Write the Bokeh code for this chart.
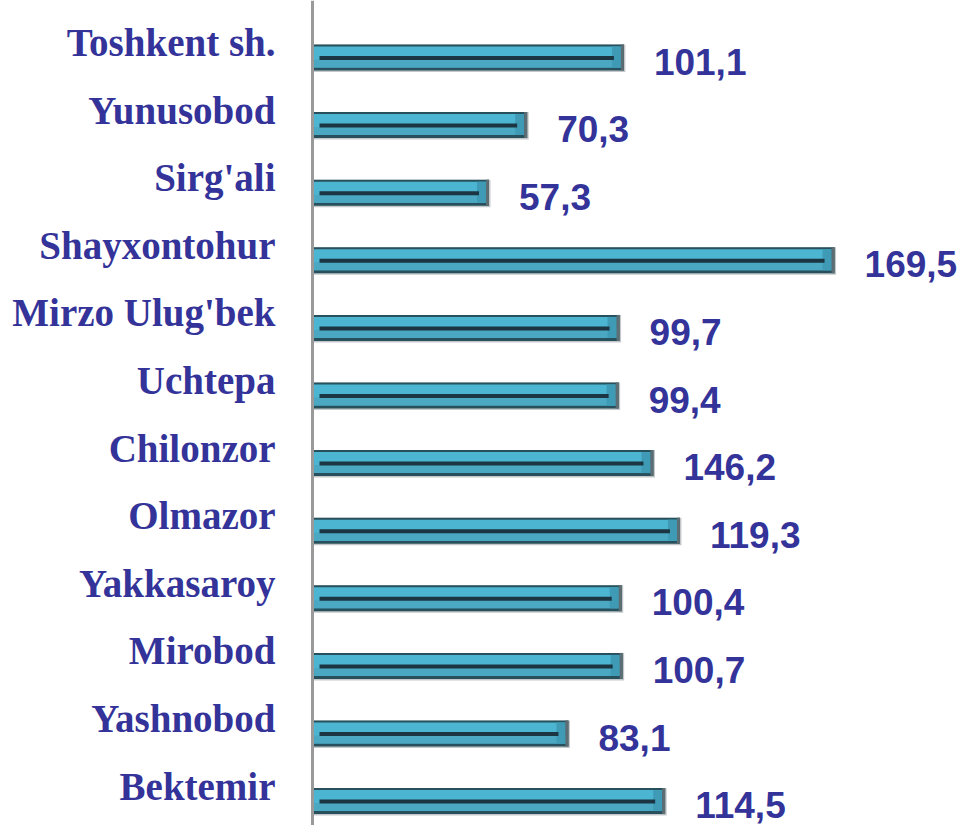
from bokeh.plotting import figure
from bokeh.models import ColumnDataSource, Range1d, Span
from bokeh.core.properties import value
from bokeh.embed import file_html
from bokeh.resources import INLINE

# ---- data (top to bottom as in the picture) ----
categories = ["Toshkent sh.", "Yunusobod", "Sirg'ali", "Shayxontohur",
              "Mirzo Ulug'bek", "Uchtepa", "Chilonzor", "Olmazor",
              "Yakkasaroy", "Mirobod", "Yashnobod", "Bektemir"]
value_labels = ["101,1", "70,3", "57,3", "169,5", "99,7", "99,4",
                "146,2", "119,3", "100,4", "100,7", "83,1", "114,5"]
# bar lengths as drawn in the picture
bar_values = [101.1, 69.7, 57.3, 169.5, 99.7, 99.4,
              110.7, 119.3, 100.4, 100.7, 83.1, 114.5]

# ---- geometry helpers (pixel -> data conversion) ----
W, H = 966, 825
PX_X = 3.08     # pixels per value unit
PX_Y = 67.6     # pixels per row
x0_px = 312     # position of zero inside the figure
n = len(categories)
ypos = [n - 1 - i for i in range(n)]
dx = 1.0 / PX_X
dy = 1.0 / PX_Y

top_row_px = 57
y_end = (n - 1) + top_row_px / PX_Y
y_start = y_end - H / PX_Y
x_start = -x0_px / PX_X
x_end = (W - x0_px) / PX_X

p = figure(width=W, height=H, output_backend="svg", toolbar_location=None,
           x_range=Range1d(x_start, x_end), y_range=Range1d(y_start, y_end),
           x_axis_location=None, y_axis_location=None, min_border=0,
           outline_line_color=None, background_fill_color="white",
           border_fill_color="white")
p.xgrid.visible = False
p.ygrid.visible = False

src = ColumnDataSource(dict(
    y=ypos, v=bar_values, cat=categories, lab=value_labels,
    top=[y + 13 * dy for y in ypos],
    bottom=[y - 13 * dy for y in ypos],
    in_top=[y + 11 * dy for y in ypos],
    in_bottom=[y - 10 * dy for y in ypos],
    low_top=[y - 2 * dy for y in ypos],
    line_top=[y + 1.5 * dy for y in ypos],
    line_bottom=[y - 2.5 * dy for y in ypos],
    line_left=[7 * dx for _ in ypos],
    line_right=[v - 10 * dx for v in bar_values],
    cap_left=[v - 3 * dx for v in bar_values],
    bev_left=[v - 12 * dx for v in bar_values],
    shadow_right=[v + 1.5 * dx for v in bar_values],
    shadow_bottom=[y - 14.5 * dy for y in ypos],
    zero=[0 for _ in ypos],
    cat_y=[y + 15 * dy for y in ypos],
    lab_y=[y - 4 * dy for y in ypos],
))

# soft shadow
p.quad(left="zero", right="shadow_right", top="top", bottom="shadow_bottom",
       source=src, fill_color="#c4c8ca", line_color=None)
# dark outer frame of bar
p.quad(left="zero", right="v", top="top", bottom="bottom", source=src,
       fill_color="#27505c", line_color=None)
# light face
p.quad(left="zero", right="cap_left", top="in_top", bottom="in_bottom",
       source=src, fill_color="#4cb5d1", line_color=None)
# lower face (slightly darker)
p.quad(left="zero", right="cap_left", top="low_top", bottom="in_bottom",
       source=src, fill_color="#4aa8c3", line_color=None)
# right bevel
p.quad(left="bev_left", right="cap_left", top="in_top", bottom="in_bottom",
       source=src, fill_color="#3f9bb5", line_color=None)
# inner dark line
p.quad(left="line_left", right="line_right", top="line_top", bottom="line_bottom",
       source=src, fill_color="#1b3642", line_color=None)
# right end cap
p.quad(left="cap_left", right="v", top="top", bottom="bottom", source=src,
       fill_color="#5c6d73", line_color=None)

# vertical axis line
p.add_layout(Span(location=0, dimension="height", line_color="#9a9a9a",
                  line_width=3))

# category labels
p.text(x="zero", y="cat_y", text="cat", source=src, x_offset=-37,
       text_align="right", text_baseline="alphabetic",
       text_font=value("Liberation Serif"), text_font_style="bold",
       text_font_size="39px", text_color="#333399")

# value labels
p.text(x="v", y="lab_y", text="lab", source=src, x_offset=30,
       text_align="left", text_baseline="alphabetic",
       text_font=value("Liberation Sans"), text_font_style="bold",
       text_font_size="37px", text_color="#333399")

open("out.html", "w").write(file_html(p, INLINE))
